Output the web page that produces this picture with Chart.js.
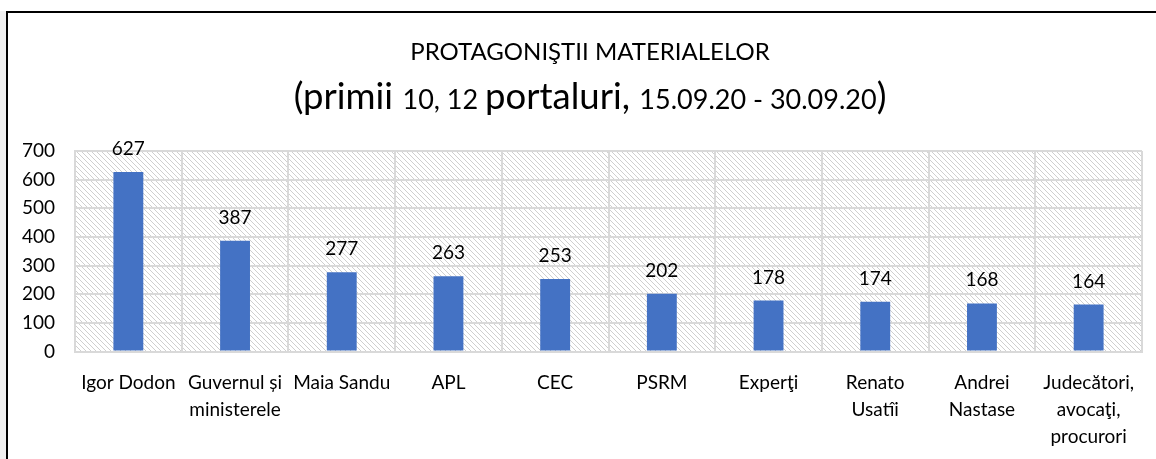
<!DOCTYPE html>
<html>
<head>
<meta charset="utf-8">
<script src="https://cdn.jsdelivr.net/npm/chart.js@4/dist/chart.umd.min.js"></script>
<style>
    body { margin: 0; background: #fff; width: 1156px; height: 459px; overflow: hidden; position: relative; }
    #strip { position: absolute; left: 0; top: 11px; width: 6px; height: 448px; background: #f0f0f0; }
    #frame { position: absolute; left: 6px; top: 11px; width: 1150px; height: 448px; border-top: 2px solid #000; border-left: 2px solid #000; box-sizing: border-box; }
    #chart { position: absolute; left: 8px; top: 13px; }
</style>
</head>
<body>
<div id="strip"></div>
<div id="frame"></div>
<canvas id="chart" width="1148" height="446"></canvas>
<script>
const categories = [
    'Igor Dodon',
    ['Guvernul și', 'ministerele'],
    'Maia Sandu',
    'APL',
    'CEC',
    'PSRM',
    'Experţi',
    ['Renato', 'Usatîi'],
    ['Andrei', 'Nastase'],
    ['Judecători,', 'avocaţi,', 'procurori']
];
const values = [627, 387, 277, 263, 253, 202, 178, 174, 168, 164];
const yTicks = [0, 100, 200, 300, 400, 500, 600, 700];

const titleText = 'PROTAGONIŞTII MATERIALELOR';
const subtitleParts = [
    { text: '(primii ', size: 36.5 },
    { text: '10, 12 ', size: 27 },
    { text: 'portaluri, ', size: 36.5 },
    { text: '15.09.20 - 30.09.20', size: 27 },
    { text: ')', size: 36.5 }
];

const FONT = 'Lato, "Open Sans", sans-serif';
const gridColor = '#d9d9d9';

// hatch pattern for the plot area
function makeHatch() {
    const s = 5;
    const c = document.createElement('canvas');
    c.width = s; c.height = s;
    const g = c.getContext('2d');
    g.fillStyle = '#ffffff';
    g.fillRect(0, 0, s, s);
    g.strokeStyle = '#cfcfcf';
    g.lineWidth = 1;
    g.beginPath();
    g.moveTo(0, 0); g.lineTo(s, s);
    g.moveTo(-1, s - 1); g.lineTo(1, s + 1);
    g.moveTo(s - 1, -1); g.lineTo(s + 1, 1);
    g.stroke();
    return c;
}

const plotBackground = {
    id: 'plotBackground',
    beforeDraw(chart) {
        const { ctx, chartArea } = chart;
        ctx.save();
        ctx.fillStyle = ctx.createPattern(makeHatch(), 'repeat');
        ctx.fillRect(chartArea.left, chartArea.top, chartArea.right - chartArea.left, chartArea.bottom - chartArea.top);
        ctx.restore();
    }
};

const titles = {
    id: 'titles',
    afterDraw(chart) {
        const ctx = chart.ctx;
        const cx = 582;
        ctx.save();
        ctx.fillStyle = '#000';
        ctx.textBaseline = 'alphabetic';
        ctx.textAlign = 'center';
        ctx.font = '24px ' + FONT;
        ctx.fillText(titleText, cx, 47);

        ctx.textAlign = 'left';
        let total = 0;
        subtitleParts.forEach(p => {
            ctx.font = p.size + 'px ' + FONT;
            p.w = ctx.measureText(p.text).width;
            total += p.w;
        });
        let x = cx - total / 2;
        subtitleParts.forEach(p => {
            ctx.font = p.size + 'px ' + FONT;
            ctx.fillText(p.text, x, 96);
            x += p.w;
        });
        ctx.restore();
    }
};

const valueLabels = {
    id: 'valueLabels',
    afterDatasetsDraw(chart) {
        const ctx = chart.ctx;
        const meta = chart.getDatasetMeta(0);
        ctx.save();
        ctx.font = '19px ' + FONT;
        ctx.fillStyle = '#000';
        ctx.textAlign = 'center';
        ctx.textBaseline = 'alphabetic';
        meta.data.forEach((bar, i) => {
            ctx.fillText(values[i], bar.x, bar.y - 17);
        });
        ctx.restore();
    }
};

new Chart(document.getElementById('chart'), {
    type: 'bar',
    data: {
        labels: categories,
        datasets: [{
            data: values,
            backgroundColor: '#4472C4',
            borderWidth: 0,
            categoryPercentage: 1,
            barPercentage: 0.28
        }]
    },
    options: {
        responsive: false,
        animation: false,
        layout: { padding: { top: 138, right: 14, bottom: 0, left: 0 } },
        plugins: {
            legend: { display: false },
            tooltip: { enabled: false }
        },
        scales: {
            x: {
                grid: { color: gridColor, lineWidth: 2, drawTicks: false, offset: true },
                border: { color: gridColor, width: 2 },
                ticks: {
                    color: '#000',
                    font: { family: FONT, size: 19, lineHeight: 1.42 },
                    padding: 18,
                    maxRotation: 0,
                    autoSkip: false
                },
                afterFit(scale) { scale.height = 107.5; }
            },
            y: {
                min: 0,
                max: 700,
                afterBuildTicks(scale) { scale.ticks = yTicks.map(v => ({ value: v })); },
                grid: { color: gridColor, lineWidth: 2, drawTicks: false },
                border: { color: gridColor, width: 2 },
                ticks: {
                    color: '#000',
                    font: { family: FONT, size: 19 },
                    padding: 20
                },
                afterFit(scale) { scale.width = 67; }
            }
        }
    },
    plugins: [plotBackground, titles, valueLabels]
});
</script>
</body>
</html>
